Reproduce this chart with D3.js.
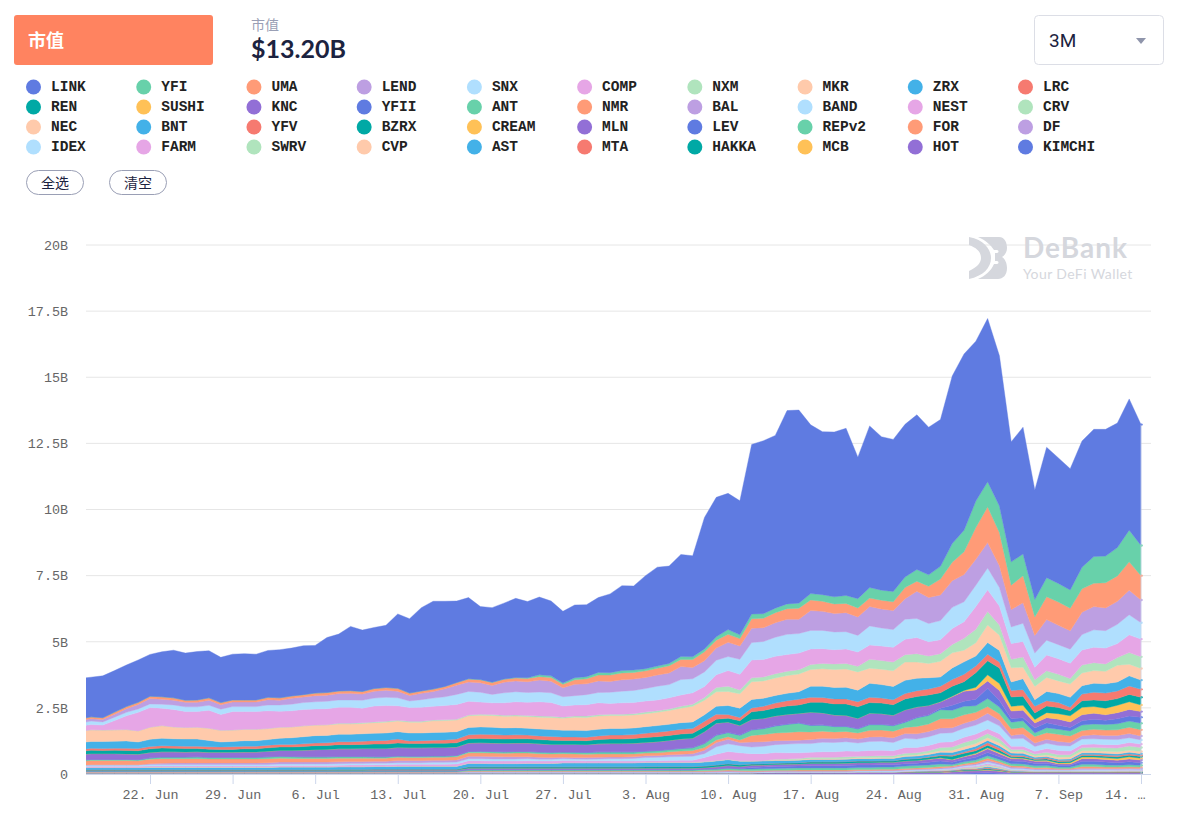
<!DOCTYPE html>
<html>
<head>
<meta charset="utf-8">
<script src="https://cdn.jsdelivr.net/npm/d3@7"></script>
<style>
  body { margin: 0; background: #fff; }
  text { font-family: "Lato", "Noto Sans CJK SC", sans-serif; }
  .mono, .axis text { font-family: "Liberation Mono", monospace; }
</style>
</head>
<body>
<div id="chart"></div>
<script>
/* DATA: market cap per token, in hundredths of a billion USD, daily from 16 Jun to 14 Sep */
const LINK = [152,150,158,157,157,160,158,170,180,178,183,178,171,173,175,
  173,177,182,181,185,180,208,215,243,232,231,235,281,281,315,332,322,308,307,276,282,287,299,288,294,283,271,275,272,283,298,
  321,318,352,374,368,386,382,497,527,515,507,641,654,653,731,730,638,616,623,632,535,611,580,575,577,585,558,555,634,666,604,
  617,568,454,479,414,493,475,458,477,481,479,471,496,457];
const YFI = [0,0,0,0,0,0,0,0,0,0,0,0,0,0,0,
  0,0,0,0,0,0,0,0,0,0,0,0,0,0,0,0,0,0,1,1,1,1,2,3,7,6,5,8,8,10,9,
  9,9,8,8,9,11,10,11,13,18,14,18,17,17,18,19,24,25,27,30,35,40,38,39,40,44,43,48,70,82,100,
  95,100,88,82,66,72,70,69,82,101,101,107,120,114];
const UMA = [7,7,7,8,8,8,9,9,9,8,9,9,8,8,8,
  8,9,9,9,9,10,10,10,10,10,10,10,11,9,9,9,9,10,11,11,11,11,11,12,13,14,13,17,19,22,24,
  26,25,25,26,27,27,30,34,30,30,28,36,36,38,40,42,40,38,36,35,34,32,33,33,42,38,43,60,70,86,120,
  135,126,92,103,70,86,88,85,88,88,95,96,107,92];
const LEND = [9,9,9,11,14,17,20,19,18,17,17,19,17,17,17,
  17,20,18,22,21,23,23,24,25,23,26,27,25,21,24,25,30,35,36,36,34,40,41,41,45,44,34,43,41,44,41,
  43,43,42,42,44,49,43,42,46,54,50,54,52,55,57,54,75,72,70,72,70,73,72,72,78,103,98,97,101,103,98,
  96,82,66,77,67,78,73,70,85,88,86,87,93,86];
const SNX = [12,13,12,13,13,13,14,15,17,18,18,19,20,19,19,
  19,22,24,25,26,27,28,28,28,30,30,31,30,25,29,31,33,38,37,37,32,38,38,37,37,37,35,35,38,39,42,
  44,46,47,52,50,58,53,55,55,53,57,66,68,72,76,74,70,69,67,65,63,72,68,67,76,72,69,72,80,75,81,
  82,70,63,69,53,56,53,53,58,66,66,73,76,62];
const COMP = [19,20,19,35,52,70,74,66,66,60,59,68,60,70,67,
  67,67,60,61,62,61,61,60,60,55,60,60,55,52,53,52,54,56,52,46,44,47,50,50,54,52,42,42,43,45,41,
  43,42,42,41,42,43,43,42,48,59,59,67,66,66,64,63,59,56,54,55,54,54,55,56,58,61,54,53,60,63,86,
  83,72,59,59,48,60,59,58,57,58,60,53,67,67];
const NXM = [0,0,0,0,0,0,0,0,0,0,0,0,0,0,0,
  0,0,0,0,0,0,0,3,3,3,3,3,3,3,3,3,3,3,3,4,4,4,4,4,4,4,4,4,5,5,5,
  5,5,6,6,6,7,8,10,16,20,15,15,15,16,16,16,19,20,21,21,21,34,33,33,28,32,28,29,32,45,51,
  51,38,32,38,25,25,25,21,30,30,28,29,44,44];
const MKR = [43,44,43,43,43,42,46,48,45,44,45,46,44,43,43,
  43,42,42,41,41,40,40,39,39,39,40,41,40,41,41,44,44,44,44,44,44,44,44,44,45,46,46,50,50,50,49,
  49,49,49,50,52,55,59,55,55,53,54,67,66,66,67,67,63,66,68,69,69,57,58,59,69,61,54,59,57,44,50,
  66,58,54,44,50,53,48,50,48,48,47,63,44,44];
const ZRX = [26,26,27,27,28,25,27,28,27,27,27,24,19,20,21,
  21,21,23,25,27,28,28,28,28,28,28,28,28,30,29,29,29,28,28,28,28,27,27,26,26,26,25,25,25,25,25,
  25,25,25,25,25,25,25,25,30,34,35,32,30,29,28,28,42,43,43,44,44,53,51,50,50,47,43,35,44,47,38,
  44,44,32,41,25,35,34,38,32,34,35,34,38,35];
const LRC = [7,7,7,7,8,8,9,9,9,9,9,9,9,10,10,
  10,10,10,10,10,10,10,11,11,12,13,14,15,10,11,12,13,14,15,16,16,15,15,14,14,14,13,13,13,14,15,
  15,15,16,17,17,18,18,20,19,14,13,15,16,18,20,22,19,18,19,19,19,20,19,19,20,22,22,25,25,28,25,
  25,22,25,25,25,20,19,13,25,29,29,29,32,30];
const REN = [12,13,12,13,13,13,14,14,13,13,12,12,11,11,12,
  12,13,13,13,14,15,15,16,16,16,17,17,17,16,16,16,16,16,16,16,16,16,16,16,16,16,15,15,15,16,17,
  17,18,19,19,19,19,19,19,15,15,18,29,30,31,32,32,38,40,42,44,44,40,40,40,42,40,40,34,38,33,55,
  53,59,35,34,25,25,23,19,25,25,28,25,28,29];
const SUSHI = [0,0,0,0,0,0,0,0,0,0,0,0,0,0,0,
  0,0,0,0,0,0,0,0,0,0,0,0,0,0,0,0,0,0,0,0,0,0,0,0,0,0,0,0,0,0,0,
  0,0,0,0,0,0,0,0,0,0,0,0,0,0,0,0,0,0,0,0,0,0,0,0,0,0,0,1,2,3,10,
  23,26,18,19,13,19,21,23,28,25,25,28,29,25];
const KNC = [21,22,22,22,21,21,20,20,20,19,19,19,19,19,20,
  20,21,22,23,25,27,28,29,29,30,31,31,32,32,32,32,32,32,32,32,32,32,32,32,31,30,29,29,29,30,31,
  31,32,32,33,34,35,35,44,44,38,35,38,37,36,36,35,48,45,42,40,38,42,40,38,44,38,35,23,32,38,35,
  28,38,29,28,19,19,23,21,23,23,21,23,25,21];
const YFII = [0,0,0,0,0,0,0,0,0,0,0,0,0,0,0,
  0,0,0,0,0,0,0,0,0,0,0,0,0,0,0,0,0,0,0,0,0,0,0,0,0,0,0,1,1,1,1,
  1,1,1,1,1,1,1,1,2,2,2,2,2,2,2,2,2,2,2,2,2,2,2,2,3,3,3,6,19,19,25,
  39,25,13,12,19,19,15,13,16,18,16,19,19,23];
const ANT = [4,4,4,4,4,4,5,6,6,6,7,6,6,6,6,
  6,7,7,7,6,6,6,6,6,6,5,5,5,5,5,5,5,5,5,6,6,6,6,6,6,6,6,6,6,7,7,
  7,7,7,8,8,9,10,15,17,15,17,20,22,26,30,32,24,22,20,18,15,21,20,20,19,32,32,34,32,32,25,
  30,25,25,25,13,19,19,19,21,20,21,23,23,25];
const NMR = [15,16,16,16,16,15,17,17,16,16,16,15,15,15,15,
  15,15,15,14,14,14,14,14,13,13,12,12,12,11,11,11,11,12,13,13,13,13,14,14,14,14,14,14,13,13,12,
  12,11,10,10,11,12,12,10,10,10,10,25,27,29,30,32,29,27,25,24,23,25,25,25,23,28,28,35,34,32,28,
  25,25,25,25,25,25,27,25,19,21,20,21,24,23];
const BAL = [0,1,1,1,1,1,3,5,6,6,6,6,6,6,6,
  6,7,7,7,7,7,7,7,7,7,7,7,8,8,8,8,8,8,9,9,9,8,8,7,7,6,5,5,6,6,6,
  6,6,7,7,8,9,10,13,16,17,12,19,17,15,14,13,15,15,15,15,15,17,17,18,18,20,20,20,19,19,20,
  26,21,13,16,13,15,15,13,13,15,15,16,16,15];
const BAND = [5,5,5,5,5,5,6,6,6,6,6,6,6,6,6,
  6,6,6,6,6,6,6,6,6,6,6,6,6,6,6,7,7,7,8,8,8,8,8,8,7,7,7,6,6,7,8,
  9,10,12,13,14,14,15,15,28,29,27,25,28,30,33,35,33,36,35,35,31,34,34,31,35,32,33,34,34,34,34,
  33,30,28,30,18,20,19,19,20,20,20,19,18,16];
const NEST = [4,4,4,4,4,4,4,4,4,4,4,4,4,4,4,
  4,4,5,5,5,5,5,5,6,6,6,6,7,7,7,7,7,8,9,9,9,9,9,9,8,8,8,8,7,7,7,
  6,6,6,6,7,8,8,15,24,29,30,27,26,25,23,21,19,21,21,22,19,21,21,19,22,20,20,20,20,20,20,
  18,20,12,12,10,14,16,14,12,12,12,13,13,13];
const CRV = [0,0,0,0,0,0,0,0,0,0,0,0,0,0,0,
  0,0,0,0,0,0,0,0,0,0,0,0,0,0,0,0,0,0,0,0,0,0,0,0,0,0,0,0,0,0,0,
  0,0,0,0,0,0,0,0,0,0,0,0,0,2,3,4,5,5,5,6,6,7,7,7,8,8,9,12,13,16,16,
  16,15,8,9,8,10,10,9,12,13,13,14,16,15];
const NEC = [1,1,1,1,1,1,1,1,1,1,1,1,1,1,1,
  1,1,1,1,1,1,1,1,1,1,1,1,1,1,1,1,1,1,1,1,1,1,1,1,1,1,1,1,1,1,1,
  1,1,1,1,1,1,1,2,2,2,2,2,2,3,3,3,3,3,3,3,3,3,3,3,4,4,5,6,8,10,10,
  10,10,6,6,5,6,7,7,8,8,8,8,8,8];
const BNT = [7,8,8,8,8,8,9,9,9,9,9,9,9,9,9,
  9,9,10,10,10,10,10,10,10,10,10,10,11,11,11,11,11,11,13,13,12,12,12,13,13,13,15,15,15,15,15,
  15,15,15,15,15,15,15,15,15,15,13,10,10,10,9,9,9,9,9,9,9,9,9,9,9,9,9,10,10,10,10,
  9,9,8,8,5,5,5,5,6,6,6,6,6,6];
const YFV = [0,0,0,0,0,0,0,0,0,0,0,0,0,0,0,
  0,0,0,0,0,0,0,0,0,0,0,0,0,0,0,0,0,0,0,0,0,0,0,0,0,0,0,0,0,0,0,
  0,0,0,0,0,0,0,0,0,0,0,0,0,0,0,0,0,0,0,0,0,0,0,0,1,1,2,3,4,5,7,
  9,8,5,5,3,4,4,4,4,4,5,5,5,5];
const BZRX = [2,2,2,2,2,2,2,2,2,2,2,2,2,2,2,
  2,2,2,2,2,2,2,3,3,3,3,3,3,3,3,3,3,3,5,5,5,5,5,5,5,5,5,5,5,5,5,
  5,5,6,6,6,6,6,6,7,7,7,5,5,5,5,5,6,6,6,6,6,6,6,6,7,7,7,8,12,11,10,
  10,9,5,5,4,5,5,5,6,6,6,6,6,6];
const CREAM = [0,0,0,0,0,0,0,0,0,0,0,0,0,0,0,
  0,0,0,0,0,0,0,0,0,0,0,0,0,0,0,0,0,0,0,0,0,0,0,0,0,0,0,0,0,0,0,
  0,0,0,0,0,0,0,0,0,0,0,0,0,0,0,0,0,0,0,0,0,0,0,0,0,0,1,1,2,2,3,
  4,4,3,3,3,4,4,5,6,6,6,7,8,7];
const MLN = [3,3,3,3,3,3,3,3,3,3,3,3,3,3,3,
  3,3,3,3,3,3,3,3,3,3,4,4,4,4,4,4,4,4,6,6,6,6,6,6,6,6,6,6,6,6,6,
  6,6,6,6,6,6,6,6,8,9,8,8,8,8,8,8,9,9,9,9,9,9,9,9,10,10,11,11,9,10,12,
  14,12,9,9,8,7,5,5,10,10,10,9,11,10];
const LEV = [0,0,0,0,0,0,0,0,0,0,0,0,0,0,0,
  0,0,0,0,0,0,0,0,0,0,0,0,0,0,0,0,0,0,0,0,0,0,0,0,0,0,0,0,0,0,0,
  0,0,0,0,0,0,0,0,0,1,1,6,6,7,7,7,8,8,8,9,9,9,9,9,9,9,10,11,8,9,10,
  12,10,10,10,9,9,7,7,11,11,11,10,11,10];
const REPv2 = [3,3,3,3,3,3,3,3,3,3,3,3,3,3,3,
  3,3,3,3,3,3,3,3,3,3,3,3,3,3,3,3,3,3,5,5,5,5,5,5,5,5,5,5,5,5,5,
  5,5,5,5,5,5,5,6,6,7,6,7,7,7,8,8,8,8,8,8,8,8,8,8,9,9,9,10,6,7,8,
  9,8,8,8,7,7,5,5,9,9,8,7,8,7];
const FOR = [1,1,1,1,1,1,1,1,1,1,1,1,1,1,1,
  1,1,1,1,1,1,1,1,1,1,1,1,1,1,1,1,1,1,2,2,2,2,2,2,2,2,2,2,2,2,2,
  2,2,2,2,2,2,2,3,3,4,3,3,3,3,3,4,4,4,4,4,4,4,4,4,4,4,5,5,4,5,6,
  8,6,5,5,4,5,3,3,6,6,5,5,5,5];
const DF = [1,1,1,1,1,1,1,1,1,1,1,1,1,1,1,
  1,1,1,1,1,1,1,1,1,1,1,1,1,1,1,1,1,1,2,2,2,2,2,2,2,2,2,2,2,2,2,
  2,2,2,2,2,2,2,2,3,3,3,2,2,2,2,2,2,2,2,2,2,2,3,3,3,3,3,4,4,4,5,
  7,6,5,5,4,4,3,3,5,5,4,4,4,4];
const IDEX = [1,1,1,1,1,1,1,1,1,1,1,1,1,1,1,
  1,1,1,1,1,1,1,1,1,1,1,1,1,1,1,1,1,1,2,2,2,2,2,2,2,2,2,2,2,2,2,
  2,2,2,2,2,2,2,2,2,3,2,2,2,2,2,2,2,2,2,2,3,3,3,3,3,3,3,3,3,3,4,
  5,4,4,4,4,3,2,2,4,4,4,3,4,3];
const FARM = [0,0,0,0,0,0,0,0,0,0,0,0,0,0,0,
  0,0,0,0,0,0,0,0,0,0,0,0,0,0,0,0,0,0,0,0,0,0,0,0,0,0,0,0,0,0,0,
  0,0,0,0,0,0,0,0,0,0,0,0,0,0,0,0,0,0,0,0,0,0,0,0,1,1,1,2,2,3,4,
  5,4,2,2,1,2,2,2,2,2,2,2,2,2];
const SWRV = [0,0,0,0,0,0,0,0,0,0,0,0,0,0,0,
  0,0,0,0,0,0,0,0,0,0,0,0,0,0,0,0,0,0,0,0,0,0,0,0,0,0,0,0,0,0,0,
  0,0,0,0,0,0,0,0,0,0,0,0,0,0,0,0,0,0,0,0,0,0,0,0,0,0,0,1,1,2,3,
  4,3,2,2,1,1,1,1,1,1,1,1,1,1];
const CVP = [0,0,0,0,0,0,0,0,0,0,0,0,0,0,0,
  0,0,0,0,0,0,0,0,0,0,0,0,0,0,0,0,0,0,0,0,0,0,0,0,0,0,0,0,0,0,0,
  0,0,0,0,0,0,0,0,0,0,0,0,0,0,0,0,0,0,0,0,0,0,0,0,1,1,1,1,1,2,2,
  3,3,1,1,1,1,1,1,1,1,1,1,1,1];
const AST = [1,1,1,1,1,1,1,1,1,1,1,1,1,1,1,
  1,1,1,1,1,1,1,1,1,1,1,1,1,1,1,1,1,1,1,1,1,1,1,1,1,1,1,1,1,1,1,
  1,1,1,1,1,1,1,1,1,1,1,1,1,1,1,1,1,1,1,1,1,1,1,1,1,2,2,2,2,2,2,
  4,3,2,2,1,1,1,1,1,1,1,1,1,1];
const MTA = [0,0,0,0,0,0,0,0,0,0,0,0,0,0,0,
  0,0,0,0,0,0,0,0,0,0,0,0,0,0,0,0,0,0,0,0,0,0,0,0,0,0,0,0,0,0,0,
  0,0,0,0,0,0,0,0,0,0,0,0,0,1,1,1,1,1,1,1,1,1,1,1,1,1,2,2,2,3,3,
  4,3,2,2,1,1,1,1,1,1,1,2,2,2];
const HAKKA = [0,0,0,0,0,0,0,0,0,0,0,0,0,0,0,
  0,0,0,0,0,0,0,0,0,0,0,0,0,0,0,0,0,0,0,0,0,0,0,0,0,0,0,0,0,0,0,
  0,0,0,0,0,0,0,0,0,0,0,0,0,0,0,0,0,0,0,0,0,0,0,0,1,1,1,1,2,3,3,
  4,3,1,1,1,1,1,1,1,1,1,1,1,1];
const MCB = [0,0,0,0,0,0,0,0,0,0,0,0,0,0,0,
  0,0,0,0,0,0,0,0,0,0,0,0,0,0,0,0,0,0,0,0,0,0,0,0,0,0,0,0,0,0,0,
  0,0,0,0,0,0,0,0,0,0,0,0,0,0,0,0,0,0,0,0,1,1,1,1,1,1,1,1,1,1,1,
  2,2,1,1,1,1,1,1,1,1,1,1,1,1];
const HOT = [4,4,4,4,4,4,4,4,4,4,4,4,4,4,4,
  4,4,4,4,4,4,4,4,4,4,4,4,4,4,4,4,4,4,4,4,4,4,4,4,4,4,4,4,4,4,4,
  4,4,4,4,4,4,4,4,4,4,4,4,5,5,5,5,5,5,5,5,5,5,5,5,5,6,6,6,7,8,8,
  9,7,4,4,4,4,4,4,4,4,4,4,4,4];
const KIMCHI = [0,0,0,0,0,0,0,0,0,0,0,0,0,0,0,
  0,0,0,0,0,0,0,0,0,0,0,0,0,0,0,0,0,0,0,0,0,0,0,0,0,0,0,0,0,0,0,
  0,0,0,0,0,0,0,0,0,0,0,0,0,0,0,0,0,0,0,0,0,0,0,0,0,0,0,0,1,3,4,
  5,3,2,1,1,1,1,1,1,1,1,1,1,1];

const seriesNames = ["LINK","YFI","UMA","LEND","SNX","COMP","NXM","MKR","ZRX","LRC",
  "REN","SUSHI","KNC","YFII","ANT","NMR","BAL","BAND","NEST","CRV",
  "NEC","BNT","YFV","BZRX","CREAM","MLN","LEV","REPv2","FOR","DF",
  "IDEX","FARM","SWRV","CVP","AST","MTA","HAKKA","MCB","HOT","KIMCHI"];
const seriesValues = [LINK,YFI,UMA,LEND,SNX,COMP,NXM,MKR,ZRX,LRC,
  REN,SUSHI,KNC,YFII,ANT,NMR,BAL,BAND,NEST,CRV,
  NEC,BNT,YFV,BZRX,CREAM,MLN,LEV,REPv2,FOR,DF,
  IDEX,FARM,SWRV,CVP,AST,MTA,HAKKA,MCB,HOT,KIMCHI];
const palette = ["#5f7be1","#68d1aa","#ff9b77","#bd9fe2","#b0dffe","#e6a6e6","#b0e4bd","#ffcaab","#43b1e8","#f67a70","#00a9a5","#ffc157","#926fd6"];
const yTicks = [0,250,500,750,1000,1250,1500,1750,2000];
const yTickLabels = ["0","2.5B","5B","7.5B","10B","12.5B","15B","17.5B","20B"];

const dates = d3.timeDay.range(new Date(2020,5,16), new Date(2020,8,15));
const xTicks = d3.timeDay.range(new Date(2020,5,22), new Date(2020,8,15), 7);

const width = 1180, height = 816;
const plot = { left: 86, right: 1141, gridRight: 1151, top: 245, bottom: 774 };

const svg = d3.select("#chart").append("svg").attr("width", width).attr("height", height);

/* HEADER */
svg.append("rect").attr("x",14).attr("y",15).attr("width",199).attr("height",50).attr("rx",3).attr("fill","#ff8360");
svg.append("text").attr("x",28).attr("y",47).attr("fill","#fff").attr("font-size",18).attr("font-weight",700).text("市值");
svg.append("text").attr("x",251).attr("y",30).attr("fill","#9a9fb5").attr("font-size",14).text("市值");
svg.append("text").attr("x",251).attr("y",58).attr("fill","#1c2340").attr("font-size",25).attr("font-weight",700).text("$13.20B");
svg.append("rect").attr("x",1034.5).attr("y",15.5).attr("width",129).attr("height",49).attr("rx",4).attr("fill","#fff").attr("stroke","#dcdee6");
svg.append("text").attr("x",1049).attr("y",47).attr("fill","#1c2340").attr("font-size",19).style("font-family","Roboto").text("3M");
svg.append("path").attr("d","M1136,38 h10 l-5,6 z").attr("fill","#8f95ab");

/* LEGEND */
const legendX = d3.scaleLinear().domain([0,9]).range([33.5,1025.5]);
const legendY = d3.scaleLinear().domain([0,3]).range([87,147]);
const legend = svg.selectAll("g.legend").data(seriesNames).join("g").attr("class","legend")
  .attr("transform",(d,i) => `translate(${legendX(i%10)},${legendY(Math.floor(i/10))})`);
legend.append("circle").attr("r",7.5).attr("fill",(d,i) => palette[i%palette.length]);
legend.append("text").attr("class","mono").attr("x",17.5).attr("y",4).attr("font-size",14.5).attr("font-weight",700).attr("fill","#222").text(d => d);

[["全选",26],["清空",109]].forEach(([label,x]) => {
  svg.append("rect").attr("x",x+.5).attr("y",170.5).attr("width",57).attr("height",24).attr("rx",12).attr("fill","#fff").attr("stroke","#9a9fb5");
  svg.append("text").attr("x",x+29).attr("y",187.5).attr("text-anchor","middle").attr("font-size",14).attr("fill","#1c2340").text(label);
});

/* SCALES */
const x = d3.scaleTime().domain([xTicks[0], xTicks[xTicks.length-1]]).range([150,plot.right]);
const y = d3.scaleLinear().domain([0,2000]).range([plot.bottom,plot.top]);

/* GRID */
svg.append("g").selectAll("line").data(yTicks.slice(1)).join("line")
  .attr("x1",plot.left).attr("x2",plot.gridRight).attr("y1",d => y(d)).attr("y2",d => y(d)).attr("stroke","#e6e6e6");

/* WATERMARK */
const mark = svg.append("g").attr("fill","#d5d7dd");
mark.append("path").attr("d","M969,237 C985,240 991,250 991,258 C991,268 983,276 969,279 L969,271 C977,267 981,263 981,258 C981,252 977,248 969,245 Z");
mark.append("path").attr("d","M978,237 H999 C1005,237 1007,243 1007,248 C1007,252 1005,255 1002,257 C1005,259 1007,263 1007,268 C1007,275 1003,279 998,279 H978 C985,276 991,271 994,264 H997 C999,264 999,261 997,261 H995 L995,253 H997 C999,253 999,250 997,250 H994 C991,245 985,240 978,237 Z");
mark.append("text").attr("x",1023).attr("y",258).attr("font-size",28).attr("letter-spacing",1).attr("font-weight",700).text("DeBank");
mark.append("text").attr("x",1023).attr("y",279).attr("font-size",14).attr("letter-spacing",.4).text("Your DeFi Wallet");

/* STACKED AREAS */
const rows = dates.map((d,i) => {
  const row = { date: d };
  seriesNames.forEach((name,k) => { row[name] = seriesValues[k][i]; });
  return row;
});
const stack = d3.stack().keys(seriesNames.slice().reverse());
const layers = stack(rows);
const area = d3.area().x(d => x(d.data.date)).y0(d => y(d[0])).y1(d => y(d[1]));
const colorOf = name => palette[seriesNames.indexOf(name) % palette.length];

svg.append("clipPath").attr("id","plot-clip").append("rect")
  .attr("x",plot.left).attr("y",plot.top-5).attr("width",plot.right-plot.left+1).attr("height",plot.bottom-plot.top+5);

svg.append("g").attr("clip-path","url(#plot-clip)")
  .selectAll("path").data(layers).join("path")
  .attr("d",area).attr("fill",d => colorOf(d.key)).attr("stroke",d => colorOf(d.key)).attr("stroke-width",.4);

// small end-of-series dots and the crosshair on the last day
const lastDate = dates[dates.length-1];
const lastTop = layers[layers.length-1][dates.length-1][1];
svg.append("g").selectAll("circle").data(layers).join("circle")
  .attr("cx",x(lastDate)+.5).attr("cy",d => y(d[d.length-1][1])).attr("r",1.2).attr("fill",d => colorOf(d.key));
svg.append("line").attr("x1",x(lastDate)).attr("x2",x(lastDate)).attr("y1",y(lastTop)).attr("y2",plot.bottom).attr("stroke","#ccd6eb").attr("stroke-opacity",.7);

/* AXES */
const xAxis = svg.append("g").attr("class","axis").attr("transform",`translate(0,${plot.bottom})`)
  .call(d3.axisBottom(x).tickValues(xTicks).tickSize(10).tickFormat(d3.timeFormat("%-d. %b")));
xAxis.select(".domain").attr("d",`M${plot.left},0.5H${plot.gridRight}`).attr("stroke","#ccd6eb");
xAxis.selectAll("line").attr("stroke","#ccd6eb");
xAxis.selectAll("text").attr("font-size",13.4).attr("fill","#666").attr("y",15);
xAxis.selectAll("g.tick").filter(d => +d === +xTicks[xTicks.length-1]).select("text")
  .text("14. …").attr("text-anchor","end").attr("dx",4);

const yAxis = svg.append("g").attr("class","axis").attr("transform",`translate(68,0)`)
  .call(d3.axisLeft(y).tickValues(yTicks).tickSize(0).tickFormat((d,i) => yTickLabels[i]));
yAxis.select(".domain").remove();
yAxis.selectAll("text").attr("font-size",13.4).attr("fill","#666").attr("x",0).attr("dy","0.32em");
</script>
</body>
</html>
